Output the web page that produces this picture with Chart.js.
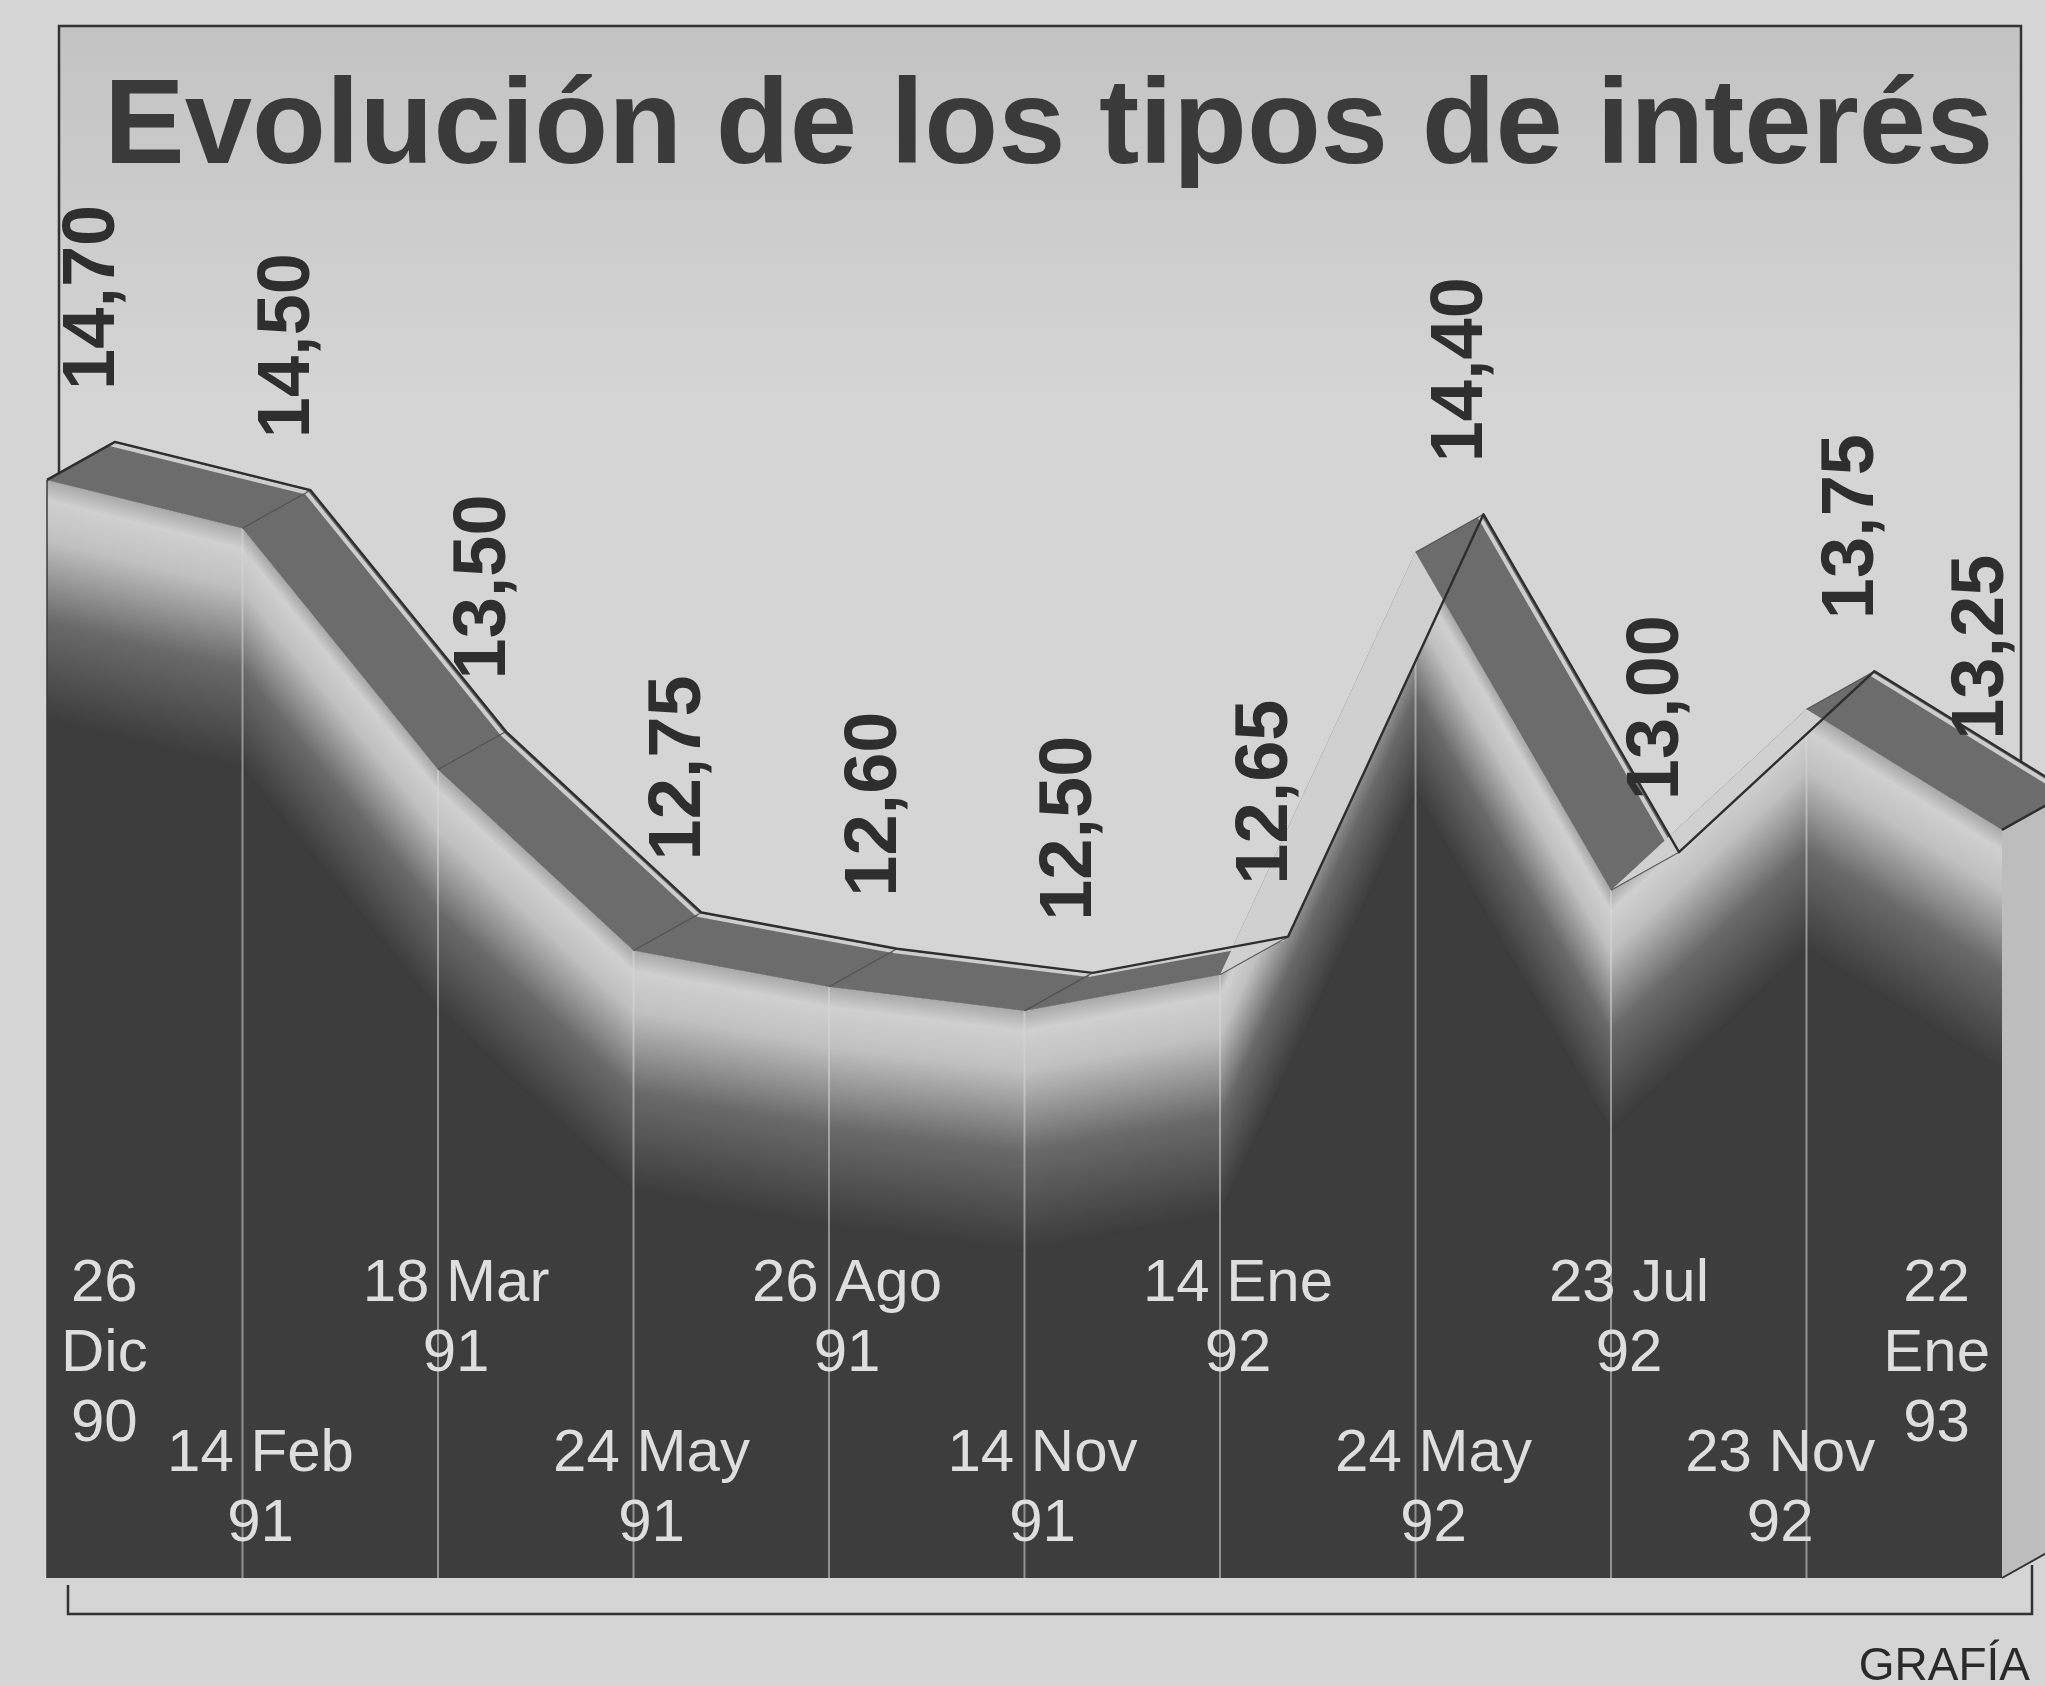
<!DOCTYPE html>
<html><head><meta charset="utf-8">
<script src="https://cdn.jsdelivr.net/npm/chart.js@4/dist/chart.umd.min.js"></script>
<style>html,body{margin:0;padding:0;background:#d5d5d5;}canvas{display:block;}</style>
</head><body>
<canvas id="c" width="2045" height="1686"></canvas>
<script>
// ---- data ----
const chartTitle = "Evolución de los tipos de interés";
const sourceNote = "GRAFÍA";
const dateLabels = [["26","Dic","90"],["14 Feb","91"],["18 Mar","91"],["24 May","91"],["26 Ago","91"],["14 Nov","91"],["14 Ene","92"],["24 May","92"],["23 Jul","92"],["23 Nov","92"],["22","Ene","93"]];
const interestRates = [14.70, 14.50, 13.50, 12.75, 12.60, 12.50, 12.65, 14.40, 13.00, 13.75, 13.25];
const rateLabels = interestRates.map(v => v.toFixed(2).replace('.', ','));

// ---- styling helpers ----
const OFF = {x: 68, y: -38};
const FONT = '"Liberation Sans", Arial, Helvetica, sans-serif';
const shadeStops = [[0,[170,170,170]],[20,[208,208,208]],[60,[192,192,192]],[140,[106,106,106]],[240,[60,60,60]]];
function mix(a,b,t){return a.map((v,i)=>Math.round(v+(b[i]-v)*t));}
function rgb(c){return 'rgb('+c[0]+','+c[1]+','+c[2]+')';}
function shadeAt(k){
  for(let i=0;i<shadeStops.length-1;i++){
    const [k0,c0]=shadeStops[i],[k1,c1]=shadeStops[i+1];
    if(k<=k1) return rgb(mix(c0,c1,(k-k0)/(k1-k0)));
  }
  return rgb(shadeStops[shadeStops.length-1][1]);
}

const artPlugin = {
  id:'art',
  beforeDraw(chart){
    const ctx=chart.ctx, a=chart.chartArea;
    const pts=chart.getDatasetMeta(0).data;
    ctx.save();
    ctx.fillStyle='#d5d5d5'; ctx.fillRect(0,0,chart.width,chart.height);
    const fl=a.left+12, fr=a.right+19, ft=a.top+1;
    const g=ctx.createLinearGradient(0,ft,0,ft+380);
    g.addColorStop(0,'#c3c3c3'); g.addColorStop(1,'#d5d5d5');
    ctx.fillStyle=g; ctx.fillRect(fl,ft,fr-fl,380);
    ctx.strokeStyle='#333'; ctx.lineWidth=2.5;
    ctx.beginPath();
    ctx.moveTo(fl,pts[0].y); ctx.lineTo(fl,ft); ctx.lineTo(fr,ft); ctx.lineTo(fr,pts[pts.length-1].y);
    ctx.stroke();
    // bracket under chart
    ctx.beginPath();
    ctx.moveTo(a.left+21,a.bottom+7); ctx.lineTo(a.left+21,a.bottom+36);
    ctx.lineTo(a.right+30,a.bottom+36); ctx.lineTo(a.right+30,a.bottom-13);
    ctx.stroke();
    ctx.restore();
  },
  afterDatasetsDraw(chart){
    const ctx=chart.ctx, a=chart.chartArea;
    const pts=chart.getDatasetMeta(0).data.map(p=>({x:p.x,y:p.y}));
    const n=pts.length;
    // --- front face shading ---
    ctx.save();
    ctx.beginPath(); ctx.moveTo(pts[0].x,a.bottom);
    pts.forEach(p=>ctx.lineTo(p.x,p.y)); ctx.lineTo(pts[n-1].x,a.bottom); ctx.closePath(); ctx.clip();
    ctx.lineWidth=3; ctx.lineJoin='round';
    for(let k=240;k>=0;k-=2){
      ctx.strokeStyle=shadeAt(k);
      ctx.beginPath(); ctx.moveTo(pts[0].x-10,pts[0].y+k);
      pts.forEach(p=>ctx.lineTo(p.x,p.y+k));
      ctx.lineTo(pts[n-1].x+10,pts[n-1].y+k); ctx.stroke();
    }
    ctx.strokeStyle='rgba(215,215,215,0.55)'; ctx.lineWidth=2;
    for(let i=1;i<n-1;i++){ctx.beginPath();ctx.moveTo(pts[i].x,pts[i].y);ctx.lineTo(pts[i].x,a.bottom);ctx.stroke();}
    ctx.restore();

    // --- right side face ---
    ctx.save();
    const L=pts[n-1];
    ctx.beginPath(); ctx.moveTo(L.x,L.y); ctx.lineTo(L.x+OFF.x,L.y+OFF.y);
    ctx.lineTo(L.x+OFF.x,a.bottom+OFF.y); ctx.lineTo(L.x,a.bottom); ctx.closePath();
    ctx.fillStyle='#bdbdbd'; ctx.fill();
    ctx.strokeStyle='#333'; ctx.lineWidth=2;
    ctx.beginPath(); ctx.moveTo(L.x,a.bottom); ctx.lineTo(L.x+OFF.x,a.bottom+OFF.y); ctx.stroke();
    ctx.restore();

    // --- top ribbon ---
    ctx.save(); ctx.lineJoin='round';
    for(let i=0;i<n-1;i++){
      const p=pts[i], q=pts[i+1];
      const th=Math.atan2(q.y-p.y,q.x-p.x)*180/Math.PI;
      const t=Math.max(0,Math.min(1,(-th-15)/20));
      const col=mix([108,108,108],[208,208,208],t);
      ctx.beginPath(); ctx.moveTo(p.x,p.y); ctx.lineTo(q.x,q.y);
      ctx.lineTo(q.x+OFF.x,q.y+OFF.y); ctx.lineTo(p.x+OFF.x,p.y+OFF.y); ctx.closePath();
      ctx.fillStyle=rgb(col); ctx.fill();
      if(t<0.5){
        ctx.strokeStyle='#cdcdcd'; ctx.lineWidth=4;
        ctx.beginPath(); ctx.moveTo(p.x+OFF.x*0.94,p.y+OFF.y*0.94); ctx.lineTo(q.x+OFF.x*0.94,q.y+OFF.y*0.94); ctx.stroke();
      }
    }
    ctx.strokeStyle='rgba(70,70,70,0.8)'; ctx.lineWidth=1.2;
    for(let i=1;i<n-1;i++){ctx.beginPath();ctx.moveTo(pts[i].x,pts[i].y);ctx.lineTo(pts[i].x+OFF.x,pts[i].y+OFF.y);ctx.stroke();}
    ctx.strokeStyle='#2e2e2e'; ctx.lineWidth=2.4;
    ctx.beginPath(); ctx.moveTo(pts[0].x,pts[0].y);
    pts.forEach(p=>ctx.lineTo(p.x+OFF.x,p.y+OFF.y));
    ctx.lineTo(L.x,L.y); ctx.stroke();
    ctx.strokeStyle='#3a3a3a'; ctx.lineWidth=1.5;
    ctx.beginPath(); ctx.moveTo(pts[0].x,pts[0].y); ctx.lineTo(pts[0].x,a.bottom); ctx.stroke();
    ctx.restore();

    // --- date labels inside the dark area ---
    ctx.save();
    ctx.font='400 60px '+FONT; ctx.fillStyle='#dedede';
    ctx.textAlign='center'; ctx.textBaseline='middle';
    const gap=70, rowA=a.bottom-294, rowB=a.bottom-124;
    const boxes=dateLabels.map((lines,i)=>{
      const w=Math.max(...lines.map(s=>ctx.measureText(s).width));
      const y0=(lines.length>2||i%2===0)?rowA:rowB;
      let cx=pts[i].x+18;
      cx=Math.max(cx,a.left+14+w/2); cx=Math.min(cx,a.right-12-w/2);
      return {lines,w,y0,cx,top:y0-24,bot:y0+(lines.length-1)*gap+24};
    });
    for(let i=n-2;i>=0;i--){
      const b=boxes[i], c=boxes[i+1];
      if(b.bot>c.top && b.top<c.bot){
        const lim=c.cx-c.w/2-8;
        if(b.cx+b.w/2>lim) b.cx=lim-b.w/2;
      }
    }
    boxes.forEach(b=>b.lines.forEach((s,j)=>ctx.fillText(s,b.cx,b.y0+j*gap)));
    ctx.restore();

    // --- rotated value labels ---
    ctx.save();
    ctx.font='700 74px '+FONT; ctx.fillStyle='#2e2e2e';
    ctx.textAlign='left'; ctx.textBaseline='alphabetic';
    pts.forEach((p,i)=>{
      const cx=Math.min(p.x+40,a.right-26), by=p.y-90;
      ctx.save(); ctx.translate(cx,by); ctx.rotate(-Math.PI/2);
      ctx.fillText(rateLabels[i],0,26.5); ctx.restore();
    });
    ctx.restore();
  },
  afterDraw(chart){
    const ctx=chart.ctx, a=chart.chartArea;
    ctx.save();
    ctx.font='700 121px '+FONT; ctx.fillStyle='#3a3a3a';
    ctx.textAlign='left'; ctx.textBaseline='alphabetic';
    ctx.fillText(chartTitle,a.left+57,a.top+138);
    ctx.font='400 46px '+FONT; ctx.fillStyle='#2a2a2a'; ctx.textAlign='right';
    ctx.fillText(sourceNote,a.right+28,chart.height-6);
    ctx.restore();
  }
};

new Chart(document.getElementById('c'),{
  type:'line',
  data:{
    labels:dateLabels.map(l=>l.join(' ')),
    datasets:[{label:'Tipo de interés',data:interestRates,fill:'start',backgroundColor:'#3d3d3d',
      borderColor:'rgba(0,0,0,0)',borderWidth:0,pointRadius:0,tension:0}]
  },
  options:{
    responsive:false,animation:false,devicePixelRatio:1,
    layout:{padding:{left:47,right:43,top:25,bottom:108}},
    plugins:{legend:{display:false},tooltip:{enabled:false},title:{display:false}},
    scales:{
      x:{display:false,offset:false},
      y:{display:false,min:10.15,max:16.585}
    }
  },
  plugins:[artPlugin]
});
</script>
</body></html>
